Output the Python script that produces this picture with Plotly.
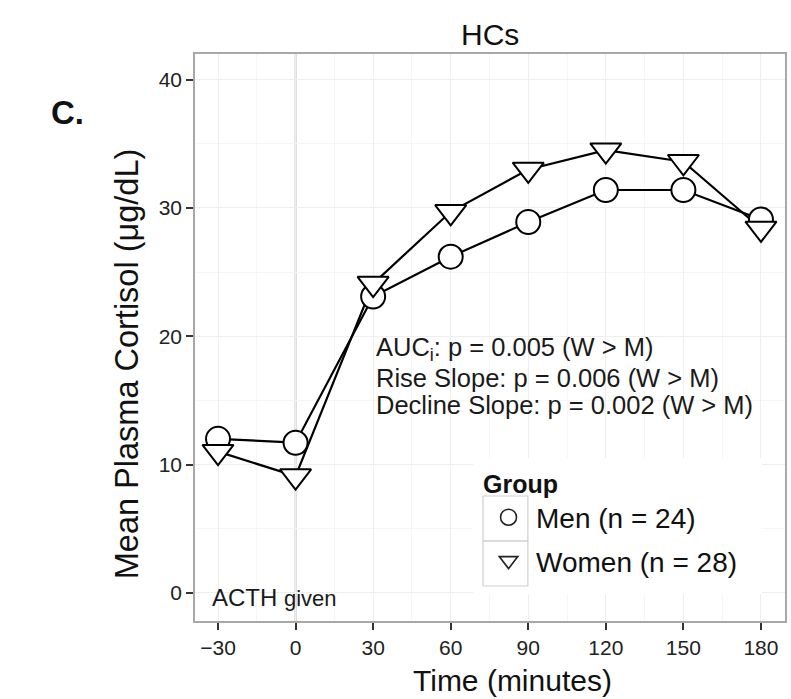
import plotly.graph_objects as go

# Sampling times relative to ACTH injection (minutes)
time_min = [-30, 0, 30, 60, 90, 120, 150, 180]

# Mean plasma cortisol (ug/dL) by group
men_cortisol = [12.0, 11.7, 23.1, 26.2, 28.9, 31.4, 31.4, 29.1]
women_cortisol = [11.0, 9.1, 24.1, 29.7, 33.0, 34.5, 33.6, 28.4]

group_names = ["Men (n = 24)", "Women (n = 28)"]
group_symbols = ["circle", "triangle-down"]

x_ticks = [-30, 0, 30, 60, 90, 120, 150, 180]
y_ticks = [0, 10, 20, 30, 40]

stats_lines = [
    "AUC<sub>i</sub>: p = 0.005 (W > M)",
    "Rise Slope: p = 0.006 (W > M)",
    "Decline Slope: p = 0.002 (W > M)",
]
stats_y = [19.0, 16.74, 14.64]
stats_x = 30.5

FONT = "Liberation Sans, Arial, Helvetica, sans-serif"
W, H = 791, 699
M_L, M_R, M_T, M_B = 195, 4, 54, 78
PW, PH = W - M_L - M_R, H - M_T - M_B


def px_to_paper(xp, yp):
    return (xp - M_L) / PW, (H - M_B - yp) / PH


fig = go.Figure()

# lines first, then points on top (white-filled markers hide the joins)
for ys in (men_cortisol, women_cortisol):
    fig.add_trace(go.Scatter(
        x=time_min, y=ys, mode="lines",
        line=dict(color="black", width=2.2),
        showlegend=False, hoverinfo="skip",
    ))

for ys, sym, size in ((men_cortisol, "circle", 24), (women_cortisol, "triangle-down", 27)):
    fig.add_trace(go.Scatter(
        x=time_min, y=ys, mode="markers",
        marker=dict(symbol=sym, size=size, color="white",
                    line=dict(color="black", width=2)),
        showlegend=False,
    ))

# legend entries (points only)
for i, (name, sym) in enumerate(zip(group_names, group_symbols)):
    fig.add_trace(go.Scatter(
        x=[None], y=[None], mode="markers", name=name,
        legendgroup=f"g{i}",
        marker=dict(symbol=sym, size=16, color="white",
                    line=dict(color="#222", width=1.6)),
    ))

shapes = []
# vertical reference line at injection time
shapes.append(dict(type="line", xref="x", yref="paper", x0=0, x1=0, y0=0, y1=1,
                   line=dict(color="#C4C4C4", width=2), layer="below"))

# legend panel and key boxes
lx0, ly0 = px_to_paper(474, 458)
lx1, ly1 = px_to_paper(764, 594)
shapes.append(dict(type="rect", xref="paper", yref="paper", x0=lx0, x1=lx1, y0=ly1, y1=ly0,
                   fillcolor="white", line=dict(width=0), layer="above"))
for top in (496, 541):
    kx0, ky0 = px_to_paper(484, top)
    kx1, ky1 = px_to_paper(529, top + 45)
    shapes.append(dict(type="rect", xref="paper", yref="paper", x0=kx0, x1=kx1, y0=ky1, y1=ky0,
                       fillcolor="rgba(0,0,0,0)", line=dict(color="#CFCFCF", width=1.2), layer="above"))

annotations = []
for txt, yy in zip(stats_lines, stats_y):
    annotations.append(dict(x=stats_x, y=yy, xref="x", yref="y", text=txt, showarrow=False,
                            xanchor="left", yanchor="middle",
                            font=dict(family=FONT, size=25.5, color="#1a1a1a")))
annotations.append(dict(x=-33.1, y=-0.4, xref="x", yref="y",
                        text="ACTH <span style='font-size:22px'>given</span>",
                        showarrow=False, xanchor="left", yanchor="middle",
                        font=dict(family=FONT, size=24, color="#1a1a1a")))
annotations.append(dict(x=0.5, y=1, xref="paper", yref="paper", yshift=20, text="HCs",
                        showarrow=False, xanchor="center", yanchor="middle",
                        font=dict(family=FONT, size=30, color="#111")))
cx, cy = px_to_paper(67, 112)
annotations.append(dict(x=cx, y=cy, xref="paper", yref="paper", text="<b>C.</b>",
                        showarrow=False, xanchor="center", yanchor="middle",
                        font=dict(family=FONT, size=33, color="#111")))

# axis titles
tx, ty = px_to_paper(514, 680)
annotations.append(dict(x=tx, y=ty, xref="paper", yref="paper", text="Time (minutes)",
                        showarrow=False, xanchor="center", yanchor="middle",
                        font=dict(family=FONT, size=30, color="#111")))
ax, ay = px_to_paper(127, 364)
annotations.append(dict(x=ax, y=ay, xref="paper", yref="paper",
                        text="Mean Plasma Cortisol (\u03bcg/dL)", textangle=-90,
                        showarrow=False, xanchor="center", yanchor="middle",
                        font=dict(family=FONT, size=32.5, color="#111")))

axis_common = dict(
    showline=True, linecolor="#A8A8A8", linewidth=1.5, mirror=True,
    ticks="outside", ticklen=7, tickwidth=1.5, tickcolor="#333",
    showgrid=True, gridcolor="#EEEEEE", gridwidth=1.2,
    zeroline=False,
    tickfont=dict(family=FONT, size=21, color="#222"),
)

fig.update_layout(
    width=W, height=H,
    margin=dict(l=M_L, r=M_R, t=M_T, b=M_B),
    paper_bgcolor="white", plot_bgcolor="white",
    font=dict(family=FONT, color="#111"),
    shapes=shapes, annotations=annotations,
    xaxis=dict(range=[-38.9, 189.3], tickvals=x_ticks,
               ticktext=["\u221230" if v < 0 else str(v) for v in x_ticks],
               minor=dict(dtick=30, tick0=-15, showgrid=True, gridcolor="#F6F6F6", gridwidth=1),
               **axis_common),
    yaxis=dict(range=[-2.2, 42.0], tickvals=y_ticks,
               minor=dict(dtick=10, tick0=5, showgrid=True, gridcolor="#F6F6F6", gridwidth=1),
               **axis_common),
    legend=dict(
        x=(482 - M_L) / PW, y=(H - M_B - 460) / PH,
        xanchor="left", yanchor="top",
        bgcolor="rgba(0,0,0,0)", borderwidth=0,
        font=dict(family=FONT, size=28, color="#111"),
        title=dict(text="<b>Group</b>", font=dict(family=FONT, size=25, color="#111")),
        tracegroupgap=4, itemsizing="trace", itemwidth=45,
    ),
)

fig.write_html("out.html")
